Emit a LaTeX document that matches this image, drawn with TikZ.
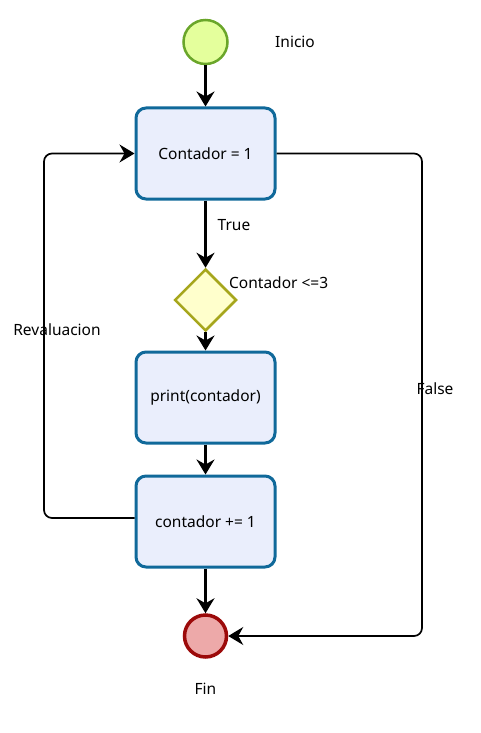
\documentclass[tikz,border=0pt]{standalone}
\usepackage{fontspec}
\setmainfont{Noto Sans}
\usetikzlibrary{shapes.geometric,arrows.meta,positioning}
\definecolor{boxfill}{HTML}{EAEEFC}
\definecolor{boxline}{HTML}{10699A}
\definecolor{startfill}{HTML}{E4FF9C}
\definecolor{startline}{HTML}{6AA62A}
\definecolor{condfill}{HTML}{FFFFCC}
\definecolor{condline}{HTML}{A6A61C}
\definecolor{endfill}{HTML}{EDA9A9}
\definecolor{endline}{HTML}{9C0A0A}

\begin{document}
\begin{tikzpicture}[x=1pt, y=-1pt, every node/.style={font=\fontsize{15.5}{18}\selectfont},
    procbox/.style={draw=boxline, fill=boxfill, line width=3pt, rounded corners=10pt,
        minimum width=139pt, minimum height=91pt, inner sep=0pt},
    startnode/.style={circle, draw=startline, fill=startfill, line width=2.5pt, minimum size=44pt, inner sep=0pt},
    endnode/.style={circle, draw=endline, fill=endfill, line width=3.5pt, minimum size=42pt, inner sep=0pt},
    decision/.style={diamond, draw=condline, fill=condfill, line width=2.5pt, minimum width=62pt, minimum height=62pt, inner sep=0pt},
    flow/.style={-{Stealth[length=15pt, width=18pt, inset=5pt]}, line width=2.2pt},
    back/.style={-{Stealth[length=15pt, width=18pt, inset=5pt]}, line width=1.7pt, rounded corners=8pt}]
    \useasboundingbox (0,0) rectangle (480,733);

    \node[startnode] (inicio) at (205.5,42) {};
    \node (lblinicio) at (295,42) {Inicio};
    \node[procbox] (contador) at (205.5,153.5) {Contador = 1};
    \node[decision] (cond) at (205.5,300) {};
    \node[anchor=west, inner sep=0pt] (lblcond) at (229,283) {Contador <=3};
    \node[procbox] (print) at (205.5,397.5) {print(contador)};
    \node[procbox] (incr) at (205.5,521.5) {contador += 1};
    \node[endnode] (fin) at (205.5,636) {};
    \node (lblfin) at (205.5,689) {Fin};

    \coordinate (loopx) at (44,0);
    \coordinate (falsex) at (422,0);

    \draw[flow] (inicio) -- (contador);
    \draw[flow] (contador) -- (cond);
    \draw[flow] (cond) -- (print);
    \draw[flow] (print) -- (incr);
    \draw[flow] (incr) -- (fin);
    \draw[back] ([yshift=3.5pt]incr.west) -- ([yshift=3.5pt]incr.west -| loopx) |- (contador.west);
    \draw[back] (contador.east) -- (contador.east -| falsex) |- (fin.east);

    \node (lbltrue) at (234,225) {True};
    \node (lblrev) at (57,330) {Revaluacion};
    \node (lblfalse) at (435,389) {False};
\end{tikzpicture}
\end{document}
